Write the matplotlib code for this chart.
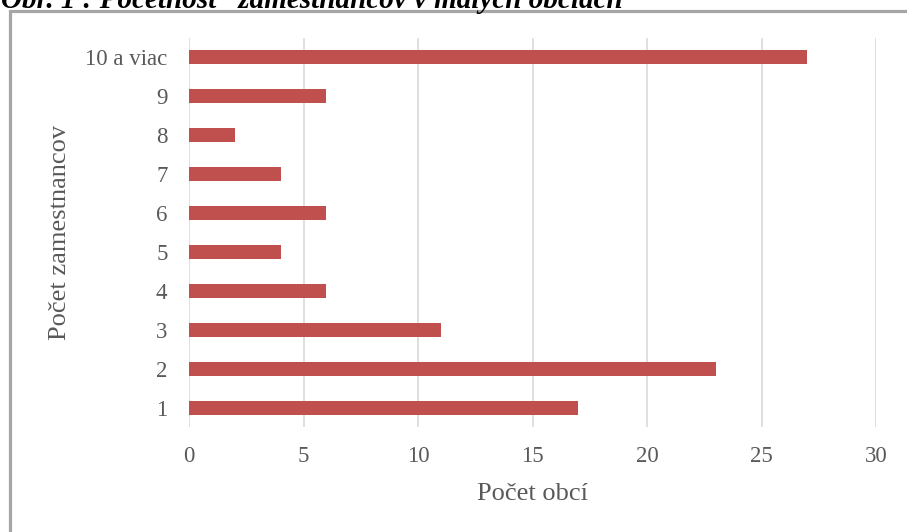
import numpy as np
import matplotlib.pyplot as plt
from matplotlib.patches import Rectangle

kategorie = ['1', '2', '3', '4', '5', '6', '7', '8', '9', '10 a viac']
pocet_obci = [17, 23, 11, 6, 4, 6, 4, 2, 6, 27]
x_ticks = [0, 5, 10, 15, 20, 25, 30]

plt.rcParams['font.family'] = ['Liberation Serif', 'DejaVu Serif']
text_col = '#595959'

fig = plt.figure(figsize=(9.07, 5.32), dpi=100)
ax = fig.add_axes([189 / 907, 1 - 427 / 532, (876 - 189) / 907, (427 - 38) / 532])

y = np.arange(len(kategorie))
ax.barh(y, pocet_obci, height=0.36, color='#C0504D', zorder=3)

ax.set_xlim(0, 30)
ax.set_ylim(-0.5, len(kategorie) - 0.5)
ax.set_xticks(x_ticks)
ax.set_yticks(y)
ax.set_yticklabels(kategorie)
ax.grid(axis='x', color='#D9D9D9', linewidth=1.2, zorder=0)
for s in ax.spines.values():
    s.set_visible(False)
ax.tick_params(axis='both', length=0, labelsize=16.5, colors=text_col)
ax.tick_params(axis='x', pad=14)
ax.tick_params(axis='y', pad=15.5)

ax.set_xlabel('Počet obcí', fontsize=19, color=text_col, labelpad=11)
ax.set_ylabel('Počet zamestnancov', fontsize=19, color=text_col, labelpad=10)

# ramcek grafu
fig.patches.append(Rectangle((10 / 907, -0.05), 1.0, 1 - 11 / 532 + 0.05,
                             transform=fig.transFigure, fill=False,
                             edgecolor='#A6A6A6', linewidth=2.3))

# orezany nadpis nad grafom
fig.text(1 / 907, 1 - 8 / 532, 'Obr. 1 : Početnosť  zamestnancov v malých obciach',
         fontsize=21, fontweight='bold', fontstyle='italic', color='black',
         va='baseline', ha='left')

fig.savefig('out.png', dpi=100)
